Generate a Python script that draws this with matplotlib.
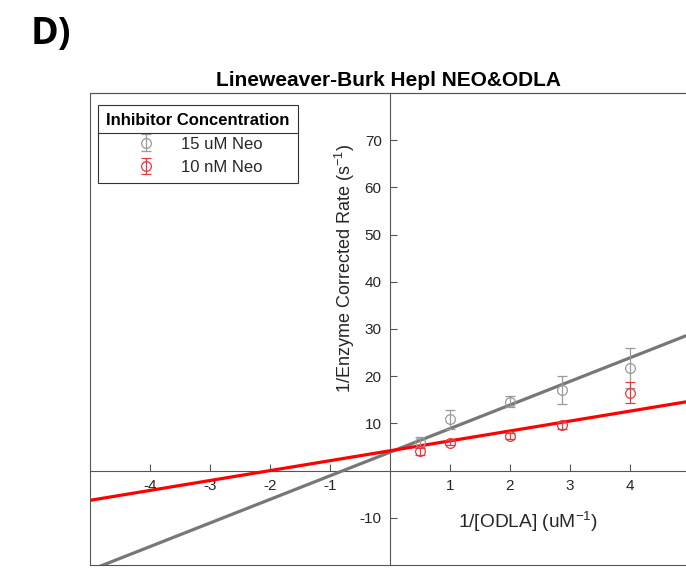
import numpy as np
import matplotlib.pyplot as plt
from matplotlib.patches import Rectangle
from matplotlib.lines import Line2D

plt.rcParams['font.family'] = ['Liberation Sans', 'DejaVu Sans']
plt.rcParams['axes.unicode_minus'] = False
plt.rcParams['mathtext.default'] = 'regular'

# data
inv_odla = [0.5, 1.0, 2.0, 2.86, 4.0]
neo15_rate = [6.1, 10.9, 14.6, 17.1, 21.8]
neo15_err = [1.0, 2.0, 1.2, 3.0, 4.2]
neo10_rate = [4.1, 5.9, 7.3, 9.6, 16.5]
neo10_err = [0.7, 0.5, 0.6, 0.8, 2.2]

# fitted lines (slope, intercept)
fit15 = (5.0, 3.9)
fit10 = (2.1, 4.2)

xticks = [-4, -3, -2, -1, 1, 2, 3, 4]
yticks = [-10, 10, 20, 30, 40, 50, 60, 70]

W, H = 686, 569
fig = plt.figure(figsize=(W / 100, H / 100), dpi=100)
ax = fig.add_axes([90 / W, (H - 565) / H, 600 / W, 472 / H])
ax.set_xlim(-5, 5)
ax.set_ylim(-20, 80)

gray_line = '#777777'
gray_mk = '#9a9a9a'
red_line = '#ff0000'
red_mk = '#e8383d'

xx = np.array([-5.0, 5.0])
ax.plot(xx, fit15[0] * xx + fit15[1], color=gray_line, lw=2.3, zorder=3)
ax.plot(xx, fit10[0] * xx + fit10[1], color=red_line, lw=2.3, zorder=3)

h1 = ax.errorbar(inv_odla, neo15_rate, yerr=neo15_err, fmt='o', mfc='none',
                 mec=gray_mk, ecolor=gray_mk, ms=7, mew=0.9, elinewidth=0.9,
                 capsize=3.5, capthick=0.9, zorder=4)
h2 = ax.errorbar(inv_odla, neo10_rate, yerr=neo10_err, fmt='o', mfc='none',
                 mec=red_mk, ecolor=red_mk, ms=7, mew=0.9, elinewidth=0.9,
                 capsize=3.5, capthick=0.9, zorder=4)

# axes crossing at origin
axc = '#555555'
ax.spines['left'].set_position(('data', 0))
ax.spines['bottom'].set_position(('data', 0))
for s in ax.spines.values():
    s.set_color(axc)
    s.set_linewidth(0.8)
ax.add_patch(Rectangle((0, 0), 1, 1, transform=ax.transAxes, fill=False,
                       edgecolor=axc, lw=0.8, clip_on=False, zorder=5))

ax.set_xticks(xticks)
ax.set_yticks(yticks)
ax.tick_params(direction='in', length=5, width=0.8, color=axc,
               labelsize=11, labelcolor='#262626', pad=6)

ax.text(2.3, -10.9, r'1/[ODLA] (uM$^{-1}$)', ha='center', va='center',
        fontsize=13.8, color='#262626')
ax.text(-0.75, 42.8, r'1/Enzyme Corrected Rate (s$^{-1}$)', ha='center',
        va='center', rotation=90, fontsize=13, color='#262626')

fig.text(388 / W, 1 - 80 / H, 'Lineweaver-Burk Hepl NEO&ODLA', ha='center',
         va='center', fontsize=15, fontweight='bold')
fig.text(31 / W, 1 - 34 / H, 'D)', ha='left', va='center', fontsize=27,
         fontweight='bold', family=['Open Sans', 'DejaVu Sans'])

leg = ax.legend([h1, h2], ['15 uM Neo', '10 nM Neo'], loc='upper left',
                bbox_to_anchor=(98 / W, 1 - 105 / H),
                bbox_transform=fig.transFigure, borderaxespad=0,
                title='Inhibitor Concentration', fancybox=False,
                edgecolor='#333333', framealpha=1, fontsize=12,
                title_fontproperties={'weight': 'bold', 'size': 12},
                handlelength=1.4, handletextpad=1.4, labelspacing=0.5,
                borderpad=0.5)
leg.get_frame().set_linewidth(0.8)
leg.set_zorder(6)
for t in leg.get_texts():
    t.set_color('#262626')

fig.canvas.draw()
tb = leg.get_title().get_window_extent()
eb = leg.get_texts()[0].get_window_extent()
fb = leg.get_frame().get_window_extent()
ysep = (tb.y0 + eb.y1) / 2
fig.add_artist(Line2D([fb.x0 / W, fb.x1 / W], [ysep / H, ysep / H],
                      color='#333333', lw=0.8, zorder=7))

fig.savefig('out.png', dpi=100)
